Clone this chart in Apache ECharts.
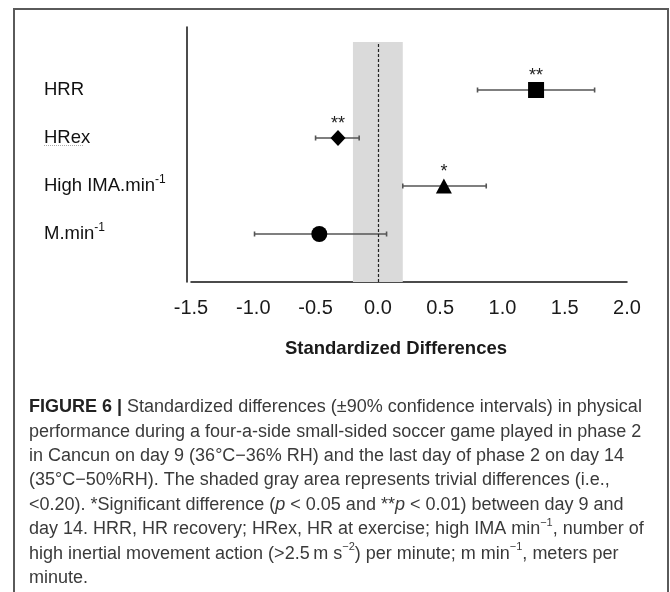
<!DOCTYPE html>
<html>
<head>
<meta charset="utf-8">
<script src="https://cdn.jsdelivr.net/npm/echarts@6/dist/echarts.min.js"></script>
<style>
  html, body { margin: 0; padding: 0; background: #fff; }
  #chart { width: 670px; height: 592px; }
</style>
</head>
<body>
<div id="chart"></div>
<script>
// ---- data ----
var categories = ['HRR', 'HRex', 'High IMA.min', 'M.min'];
var categorySup = ['', '', '-1', '-1'];
var effect = [1.27, -0.32, 0.53, -0.47];
var ciLow = [0.80, -0.50, 0.20, -0.99];
var ciHigh = [1.74, -0.15, 0.87, 0.07];
var significance = ['**', '**', '*', ''];
var trivialBand = [-0.2, 0.2];
var xTicks = [-1.5, -1.0, -0.5, 0.0, 0.5, 1.0, 1.5, 2.0];
var xTitle = 'Standardized Differences';

// ---- build ----
var nRows = categories.length;
function rowY(i) { return nRows - i; }
var markerShapes = ['rect', 'diamond', 'triangle', 'circle'];
var markerSizes = [[16, 16], [15, 16], [16, 15], [16, 16]];

var pointData = effect.map(function (v, i) {
  return { value: [v, rowY(i)], symbol: markerShapes[i], symbolSize: markerSizes[i],
    label: { formatter: significance[i] } };
});
var barData = effect.map(function (v, i) { return [ciLow[i], ciHigh[i], rowY(i)]; });

var chart = echarts.init(document.getElementById('chart'), null, { renderer: 'canvas' });
var sans = '"Liberation Sans", Arial, Helvetica, sans-serif';

var captionText =
  '{b|FIGURE 6 |} Standardized differences (±90% confidence intervals) in physical\n' +
  'performance during a four-a-side small-sided soccer game played in phase 2\n' +
  'in Cancun on day 9 (36°C\u221236% RH) and the last day of phase 2 on day 14\n' +
  '(35°C\u221250%RH). The shaded gray area represents trivial differences (i.e.,\n' +
  '<0.20). *Significant difference ({i|p} < 0.05 and **{i|p} < 0.01) between day 9 and\n' +
  'day 14. HRR, HR recovery; HRex, HR at exercise; high IMA min{s|\u22121}, number of\n' +
  'high inertial movement action (>2.5\u2009m s{s|\u22122}) per minute; m min{s|\u22121}, meters per\n' +
  'minute.';

var option = {
  backgroundColor: '#ffffff',
  animation: false,
  grid: { left: 191, right: 43, top: 27, bottom: 310, containLabel: false },
  xAxis: {
    type: 'value', min: xTicks[0], max: xTicks[xTicks.length - 1], interval: 0.5,
    axisLine: { show: true, onZero: false, lineStyle: { color: '#111', width: 1.5 } },
    axisTick: { show: false },
    splitLine: { show: false },
    axisLabel: { margin: 16, fontFamily: sans, fontSize: 20, color: '#1a1a1a',
      formatter: function (v) { return v.toFixed(1); } },
    name: xTitle, nameLocation: 'middle', nameGap: 57,
    nameTextStyle: { fontFamily: sans, fontWeight: 'bold', fontSize: 18.5, color: '#1a1a1a',
      padding: [0, 26, 0, 0] }
  },
  yAxis: {
    type: 'value', min: 0, max: 5.3125, interval: 1, offset: 4,
    axisLine: { show: true, onZero: false, lineStyle: { color: '#111', width: 1.5 } },
    axisTick: { show: false },
    splitLine: { show: false },
    axisLabel: {
      margin: 143, align: 'left', showMaxLabel: false,
      formatter: function (v) {
        var i = nRows - v;
        if (i < 0 || i >= nRows || Math.round(i) !== i) return '';
        return '{n|' + categories[i] + '}' + (categorySup[i] ? '{s|' + categorySup[i] + '}' : '');
      },
      rich: {
        n: { fontFamily: sans, fontSize: 18.5, color: '#111', lineHeight: 24 },
        s: { fontFamily: sans, fontSize: 12, color: '#111', lineHeight: 16, verticalAlign: 'top' }
      }
    }
  },
  series: [
    {
      type: 'scatter', data: [], z: 1, silent: true,
      markArea: {
        silent: true,
        itemStyle: { color: '#dadada' },
        data: [[{ xAxis: trivialBand[0], yAxis: 0 }, { xAxis: trivialBand[1], yAxis: 5 }]]
      },
      markLine: {
        silent: true, symbol: 'none', label: { show: false },
        lineStyle: { color: '#222', type: [3, 2], width: 1.2 },
        data: [[{ coord: [0, 0] }, { coord: [0, 5] }]]
      }
    },
    {
      type: 'custom', z: 3,
      data: barData,
      renderItem: function (params, api) {
        var y = api.value(2);
        var p1 = api.coord([api.value(0), y]);
        var p2 = api.coord([api.value(1), y]);
        var h = 2.5;
        var st = { stroke: '#555', lineWidth: 1.6 };
        return {
          type: 'group',
          children: [
            { type: 'line', shape: { x1: p1[0], y1: p1[1], x2: p2[0], y2: p2[1] }, style: st },
            { type: 'line', shape: { x1: p1[0], y1: p1[1] - h, x2: p1[0], y2: p1[1] + h }, style: st },
            { type: 'line', shape: { x1: p2[0], y1: p2[1] - h, x2: p2[0], y2: p2[1] + h }, style: st }
          ]
        };
      }
    },
    {
      type: 'scatter', z: 4,
      data: pointData,
      itemStyle: { color: '#000', opacity: 1 },
      label: { show: true, position: 'top', distance: -3, fontFamily: sans, fontSize: 18, color: '#222' }
    }
  ],
  graphic: [
    { type: 'rect', shape: { x: 14, y: 9, width: 654, height: 600 },
      style: { fill: 'none', stroke: '#5a5a5a', lineWidth: 2 }, z: 0, silent: true },
    { type: 'line', shape: { x1: 44, y1: 145.5, x2: 84, y2: 145.5 },
      style: { stroke: '#aaa', lineWidth: 1, lineDash: [1, 1] }, silent: true },
    { type: 'text', left: 29, top: 395, silent: true,
      style: {
        text: captionText,
        fontFamily: sans, fontSize: 18, lineHeight: 24.4, fill: '#3a3a3a',
        rich: {
          b: { fontFamily: sans, fontWeight: 'bold', fontSize: 18, lineHeight: 24.4, fill: '#222' },
          i: { fontFamily: sans, fontStyle: 'italic', fontSize: 18, lineHeight: 24.4, fill: '#3a3a3a' },
          s: { fontFamily: sans, fontSize: 11, lineHeight: 17, verticalAlign: 'top', fill: '#3a3a3a' }
        }
      }
    }
  ]
};
chart.setOption(option);
</script>
</body>
</html>
